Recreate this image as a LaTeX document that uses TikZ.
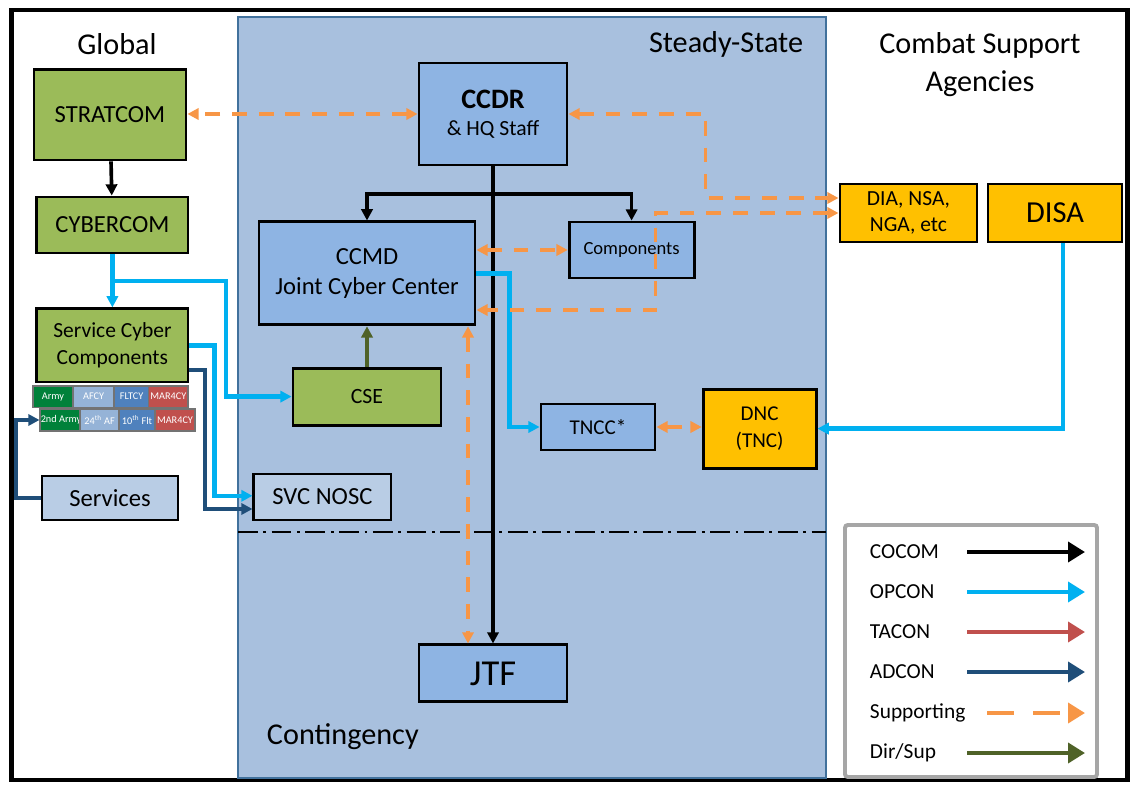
\documentclass[tikz,border=0pt]{standalone}
\usepackage{fontspec}
\setmainfont{Carlito}
\usepackage{tikz}
\usetikzlibrary{arrows.meta,calc,positioning}
\usepackage{xcolor}
\definecolor{CyPanel}{HTML}{A8C0DE}
\definecolor{CyPanelEdge}{HTML}{41719C}
\definecolor{CyBlue}{HTML}{8EB4E3}
\definecolor{CyPale}{HTML}{B9CDE5}
\definecolor{CyGreen}{HTML}{9BBB59}
\definecolor{CyGold}{HTML}{FFC000}
\definecolor{CyCyan}{HTML}{00B0F0}
\definecolor{CyNavy}{HTML}{1F4E79}
\definecolor{CyRed}{HTML}{C0504D}
\definecolor{CyOrange}{HTML}{F79646}
\definecolor{CyOlive}{HTML}{4F6228}
\definecolor{CyArmy}{HTML}{00813A}
\definecolor{CyAir}{HTML}{95B3D7}
\definecolor{CyFleet}{HTML}{4F81BD}
\definecolor{CyGrayEdge}{HTML}{A6A6A6}

\begin{document}
\begin{tikzpicture}[
  x=1cm,y=1cm,
  cocom/.style={-{Triangle[length=8pt,width=8pt]},draw=black,line width=2.6pt},
  opcon/.style={cocom,draw=CyCyan,line width=3pt},
  adcon/.style={cocom,draw=CyNavy,line width=2.8pt},
  dirsup/.style={cocom,draw=CyOlive},
  support/.style={{Triangle[length=8pt,width=8pt]}-{Triangle[length=8pt,width=8pt]},
    draw=CyOrange,line width=2.6pt,dash pattern=on 10.5pt off 8.5pt},
  legarrow/.style={-{Triangle[length=12pt,width=14pt]},line width=3.5pt},
  card/.style={draw=black,fill=CyBlue,line width=2pt,align=center,inner sep=2pt,
    font=\fontsize{17.5}{21}\selectfont},
  gcard/.style={card,fill=CyGreen},
  agcard/.style={card,fill=CyGold},
  palecard/.style={card,fill=CyPale},
  unit/.style={draw=black!55,line width=0.8pt,text=white,inner xsep=0.5pt,
    inner ysep=0pt,font=\fontsize{7.3}{8}\selectfont},
  head/.style={align=center,font=\fontsize{21.5}{27}\selectfont},
  legtext/.style={anchor=west,font=\fontsize{15.2}{18}\selectfont}
]
\useasboundingbox (0,0) rectangle (28.3,19.625);

% Frame and the combatant command panel.
\draw[line width=3.3pt] (0.29,0.125) rectangle (28.19,19.375);
\draw[fill=CyPanel,draw=CyPanelEdge,line width=1.4pt] (5.95,0.175) rectangle (20.65,19.2);
\draw[line width=1.4pt,dash pattern=on 14pt off 4pt on 2pt off 4pt]
  (5.95,6.325) -- (20.65,6.325);

\node[head] (global) at (2.925,18.525) {Global};
\node[head,anchor=east] (steady) at (20.2,18.525) {Steady-State};
\node[head] (csa) at (24.5,18.0) {Combat Support\\Agencies};
\node[head,anchor=west] (contingency) at (6.55,1.2) {Contingency};

% Global column.
\node[gcard,minimum width=3.8cm,minimum height=2.27cm] (stratcom) at (2.75,16.76) {STRATCOM};
\node[gcard,minimum width=3.78cm,minimum height=1.4cm] (cyber) at (2.81,14.0) {CYBERCOM};
\node[gcard,minimum width=3.78cm,minimum height=1.83cm,
  font=\fontsize{15.3}{19}\selectfont] (scc) at (2.81,10.99) {Service Cyber\\Components};

\node[unit,fill=CyArmy,minimum width=1.0cm,minimum height=0.53cm] (army1) at (1.325,9.71) {Army};
\node[unit,fill=CyAir,minimum width=1.03cm,minimum height=0.53cm] (afcy) at (2.34,9.71) {AFCY};
\node[unit,fill=CyFleet,minimum width=0.88cm,minimum height=0.53cm] (fltcy) at (3.29,9.71) {FLTCY};
\node[unit,fill=CyRed,minimum width=0.98cm,minimum height=0.53cm] (mar1) at (4.21,9.71) {MAR4CY};
\node[unit,fill=CyArmy,minimum width=0.95cm,minimum height=0.55cm] (army2) at (1.525,9.125) {2nd Army};
\node[unit,fill=CyAir,minimum width=0.98cm,minimum height=0.55cm] (af24) at (2.49,9.125)
  {24\textsuperscript{th} AF};
\node[unit,fill=CyFleet,minimum width=0.9cm,minimum height=0.55cm] (flt10) at (3.425,9.125)
  {10\textsuperscript{th} Flt};
\node[unit,fill=CyRed,minimum width=1.0cm,minimum height=0.55cm] (mar2) at (4.375,9.125) {MAR4CY};

\node[palecard,minimum width=3.4cm,minimum height=1.1cm] (services) at (2.75,7.175) {Services};

% Combatant command.
\node[card,minimum width=3.7cm,minimum height=2.55cm,font=\fontsize{15.4}{18.5}\selectfont]
  (ccdr) at (12.325,16.775) {{\bfseries\fontsize{20}{24}\selectfont CCDR}\\[1pt]\& HQ Staff};
\node[card,minimum width=5.4cm,minimum height=2.575cm] (ccmd) at (9.175,12.79)
  {CCMD\\Joint Cyber Center};
\node[card,minimum width=3.125cm,minimum height=1.4cm,font=\fontsize{13.2}{16}\selectfont]
  (comp) at (15.79,13.375) {Components};
\node[gcard,minimum width=3.7cm,minimum height=1.425cm,font=\fontsize{15.5}{19}\selectfont]
  (cse) at (9.175,9.71) {CSE};
\node[palecard,minimum width=3.425cm,minimum height=1.15cm] (nosc) at (8.06,7.2) {SVC NOSC};
\node[card,minimum width=2.85cm,minimum height=1.15cm,font=\fontsize{15}{18}\selectfont]
  (tncc) at (14.95,8.95) {TNCC*};
\node[agcard,minimum width=2.825cm,minimum height=1.975cm,font=\fontsize{15}{19}\selectfont]
  (dnc) at (18.99,8.91) {DNC\\(TNC)};
\node[card,minimum width=3.7cm,minimum height=1.425cm,font=\fontsize{26}{30}\selectfont]
  (jtf) at (12.325,2.79) {JTF};

% Combat support agencies.
\node[agcard,minimum width=3.425cm,minimum height=1.45cm,font=\fontsize{15.3}{19}\selectfont]
  (dia) at (22.71,14.3) {DIA, NSA,\\NGA, etc};
\node[agcard,minimum width=3.35cm,minimum height=1.45cm,font=\fontsize{21.7}{26}\selectfont]
  (disa) at (26.375,14.3) {DISA};

% COCOM lines.
\draw[cocom] (stratcom) -- (cyber);
\draw[cocom] (ccdr) -- (jtf);
\coordinate (split) at (12.325,14.775);
\draw[cocom] (split) -| (ccmd.north);
\draw[cocom] (split) -| (comp.north);

% OPCON and ADCON lines.
\draw[opcon] (cyber) -- (scc);
\coordinate (opsplit) at ($(cyber.south)!0.5!(scc.north)$);
\draw[opcon] (opsplit) -- ++(2.84,0) |- (cse.west);
\draw[opcon] (scc.east) -- ++(0.625,0) |- ([yshift=0.3mm]nosc.west);
\draw[adcon] ([yshift=-6.1mm]scc.east) -- ++(0.4,0) |- ([yshift=-3mm]nosc.west);
\draw[adcon] (services.west) -- ++(-0.625,0) |- (army2.west);
\draw[opcon] (ccmd.east) -- ++(0.825,0) |- (tncc.west);
\draw[opcon] ([xshift=1.9mm]disa.south) |- (dnc.east);
\draw[dirsup] (cse) -- (ccmd);

% Supporting relationships.
\draw[support] (ccdr.west) -- (stratcom.east |- ccdr.west);
\draw[support] (ccmd.east |- comp.west) -- (comp.west);
\draw[support] (ccdr.east) -- ++(3.43,0) |- ([yshift=3.75mm]dia.west);
\draw[support] (dia.west) -- ++(-4.575,0) |- ([yshift=-9.15mm]ccmd.east);
\draw[support] ([xshift=25.25mm]ccmd.south) -- ([xshift=25.25mm]ccmd.south |- jtf.north);
\draw[support] (tncc.east) -- (tncc.east -| dnc.west);

% Legend.
\draw[draw=CyGrayEdge,line width=2.8pt,fill=white,rounded corners=2pt]
  (21.125,0.2) rectangle (27.425,6.5);
\node[legtext] (lcocom) at (21.625,5.825) {COCOM};
\node[legtext] (lopcon) at (21.625,4.825) {OPCON};
\node[legtext] (ltacon) at (21.625,3.825) {TACON};
\node[legtext] (ladcon) at (21.625,2.825) {ADCON};
\node[legtext] (lsupport) at (21.625,1.8) {Supporting};
\node[legtext] (ldirsup) at (21.625,0.8) {Dir/Sup};
\draw[cocom,legarrow] (24.175,5.825) -- (27.125,5.825);
\draw[opcon,legarrow] (24.175,4.825) -- (27.125,4.825);
\draw[cocom,draw=CyRed,legarrow] (24.175,3.825) -- (27.125,3.825);
\draw[adcon,legarrow] (24.175,2.825) -- (27.125,2.825);
\draw[support,legarrow,dash pattern=on 19pt off 14pt] (24.675,1.8) -- (27.125,1.8);
\draw[dirsup,legarrow] (24.175,0.8) -- (27.125,0.8);

\end{tikzpicture}
\end{document}
